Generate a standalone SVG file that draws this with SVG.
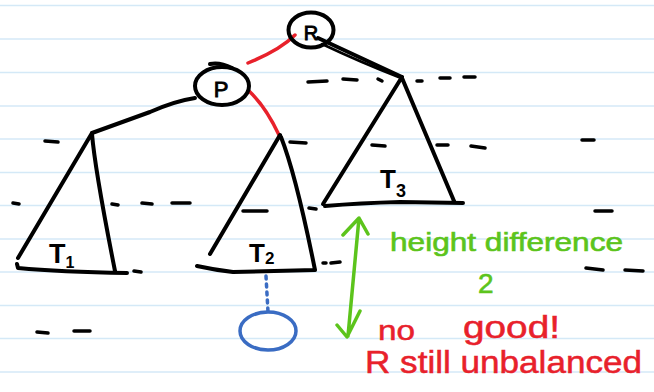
<svg xmlns="http://www.w3.org/2000/svg" width="654" height="392" viewBox="0 0 654 392">
<defs>
<style>
.rule{stroke:#d4e9f7;stroke-width:1.5}
.k{fill:none;stroke:#000;stroke-width:4;stroke-linecap:round;stroke-linejoin:round}
.d{fill:none;stroke:#000;stroke-width:3.5;stroke-linecap:round}
.r{fill:none;stroke:#e8212b;stroke-width:3.5;stroke-linecap:round}
.g{fill:none;stroke:#5cc41c;stroke-width:3.5;stroke-linecap:round;stroke-linejoin:round}
.b{fill:none;stroke:#3a6cc3;stroke-width:3.5;stroke-linecap:round}
.lbl{font-family:"Liberation Sans",Arial,sans-serif;fill:#000}
.nl{font-family:"Liberation Sans",Arial,sans-serif;fill:#000;stroke:#000;stroke-width:0.9}
.gt{font-family:"Liberation Sans",Arial,sans-serif;fill:#5cc41c;stroke:#5cc41c;stroke-width:0.6}
.rt{font-family:"Liberation Sans",Arial,sans-serif;fill:#e8212b;stroke:#e8212b;stroke-width:0.5}
</style>
</defs>
<rect width="654" height="392" fill="#fff"/>
<g id="rules">
<line class="rule" x1="0" y1="5.5" x2="654" y2="5.5"/>
<line class="rule" x1="0" y1="39" x2="654" y2="39"/>
<line class="rule" x1="0" y1="72.5" x2="654" y2="72.5"/>
<line class="rule" x1="0" y1="106" x2="654" y2="106"/>
<line class="rule" x1="0" y1="139" x2="654" y2="139"/>
<line class="rule" x1="0" y1="172.5" x2="654" y2="172.5"/>
<line class="rule" x1="0" y1="205.5" x2="654" y2="205.5"/>
<line class="rule" x1="0" y1="239" x2="654" y2="239"/>
<line class="rule" x1="0" y1="272" x2="654" y2="272"/>
<line class="rule" x1="0" y1="305.5" x2="654" y2="305.5"/>
<line class="rule" x1="0" y1="338.5" x2="654" y2="338.5"/>
<line class="rule" x1="0" y1="372" x2="654" y2="372"/>
</g>
<g id="dashes">
<path class="d" d="M45,141 L58,142 M290,142 L306,143 M13,203 L19,204 M112,204 L118,205 M142,203 L152,204 M172,203 L190,203 M243,211 L267,211 M309,208 L316,209 M134,271 L141,272 M323,263 L326,263 M331,263 L340,262"/>
<path class="d" d="M308,82 L327,81 M343,79 L357,80 M378,79 L382,81 M417,81 L422,81 M440,78 L450,78 M464,77 L475,77"/>
<path class="d" d="M372,145 L385,146 M437,145 L448,145 M471,146 L485,148 M582,140 L594,140 M595,211 L612,211 M586,268 L603,270 M625,270 L643,271 M37,332 L48,333 M74,331 L90,331"/>
</g>
<g id="connectors">
<path class="r" d="M295,35 Q280,50 248,63"/>
<path class="k" d="M318,38 L402,77"/>
<path fill="none" stroke="#000" stroke-width="2.5" stroke-linecap="round" d="M322,44 Q360,62 401,78"/>
<path class="k" d="M195,98 Q175,101 150,112 L92,133"/>
<path class="r" d="M249,91 Q266,107 279,135"/>
<path class="b" stroke-dasharray="3,5" d="M266,276 L268,312"/>
<path class="g" d="M359,218 L348,336 M343,235 L359,218 L368,234 M337,325 L347,337 L360,311"/>
</g>
<g id="R">
<ellipse class="k" cx="311" cy="30" rx="22.5" ry="17.5"/>
<text class="nl" x="311" y="40" font-size="20" text-anchor="middle">R</text>
</g>
<g id="P">
<ellipse class="k" cx="222" cy="86" rx="27" ry="19"/>
<path class="k" d="M210,64 Q220,62 232,68"/>
<text class="nl" x="221" y="97" font-size="22" text-anchor="middle">P</text>
</g>
<g id="T1">
<path class="k" d="M92,133 L18,258 M92,134 Q95,170 115,271 M17,264 L18,268 Q60,272 127,273"/>
<text class="lbl" x="49" y="263" font-size="27" font-weight="bold">T<tspan font-size="16" dy="5">1</tspan></text>
</g>
<g id="T2">
<path class="k" d="M280,135 L210,254 M281,137 Q296,175 315,270 M197,266 Q215,270 233,272 L315,270"/>
<text class="lbl" x="249" y="262" font-size="26" font-weight="bold">T<tspan font-size="17" dy="2">2</tspan></text>
</g>
<g id="T3">
<path class="k" d="M402,77 L323,204 M402,78 L454,201 M325,206 Q360,203 400,202 L463,203"/>
<text class="lbl" x="380" y="188" font-size="26" font-weight="bold">T<tspan font-size="18" dy="9">3</tspan></text>
</g>
<g id="child">
<ellipse class="b" cx="268" cy="331" rx="28" ry="19"/>
</g>
<g id="notes">
<text class="gt" x="390" y="251" font-size="25" textLength="233" lengthAdjust="spacingAndGlyphs">height difference</text>
<text class="gt" x="478" y="293" font-size="28">2</text>
<text class="rt" x="378" y="340" font-size="27" textLength="37" lengthAdjust="spacingAndGlyphs">no</text>
<text class="rt" x="463" y="338" font-size="31" textLength="97" lengthAdjust="spacingAndGlyphs">good!</text>
<text class="rt" x="365" y="373" font-size="31" textLength="277" lengthAdjust="spacingAndGlyphs">R still unbalanced</text>
</g>
</svg>
